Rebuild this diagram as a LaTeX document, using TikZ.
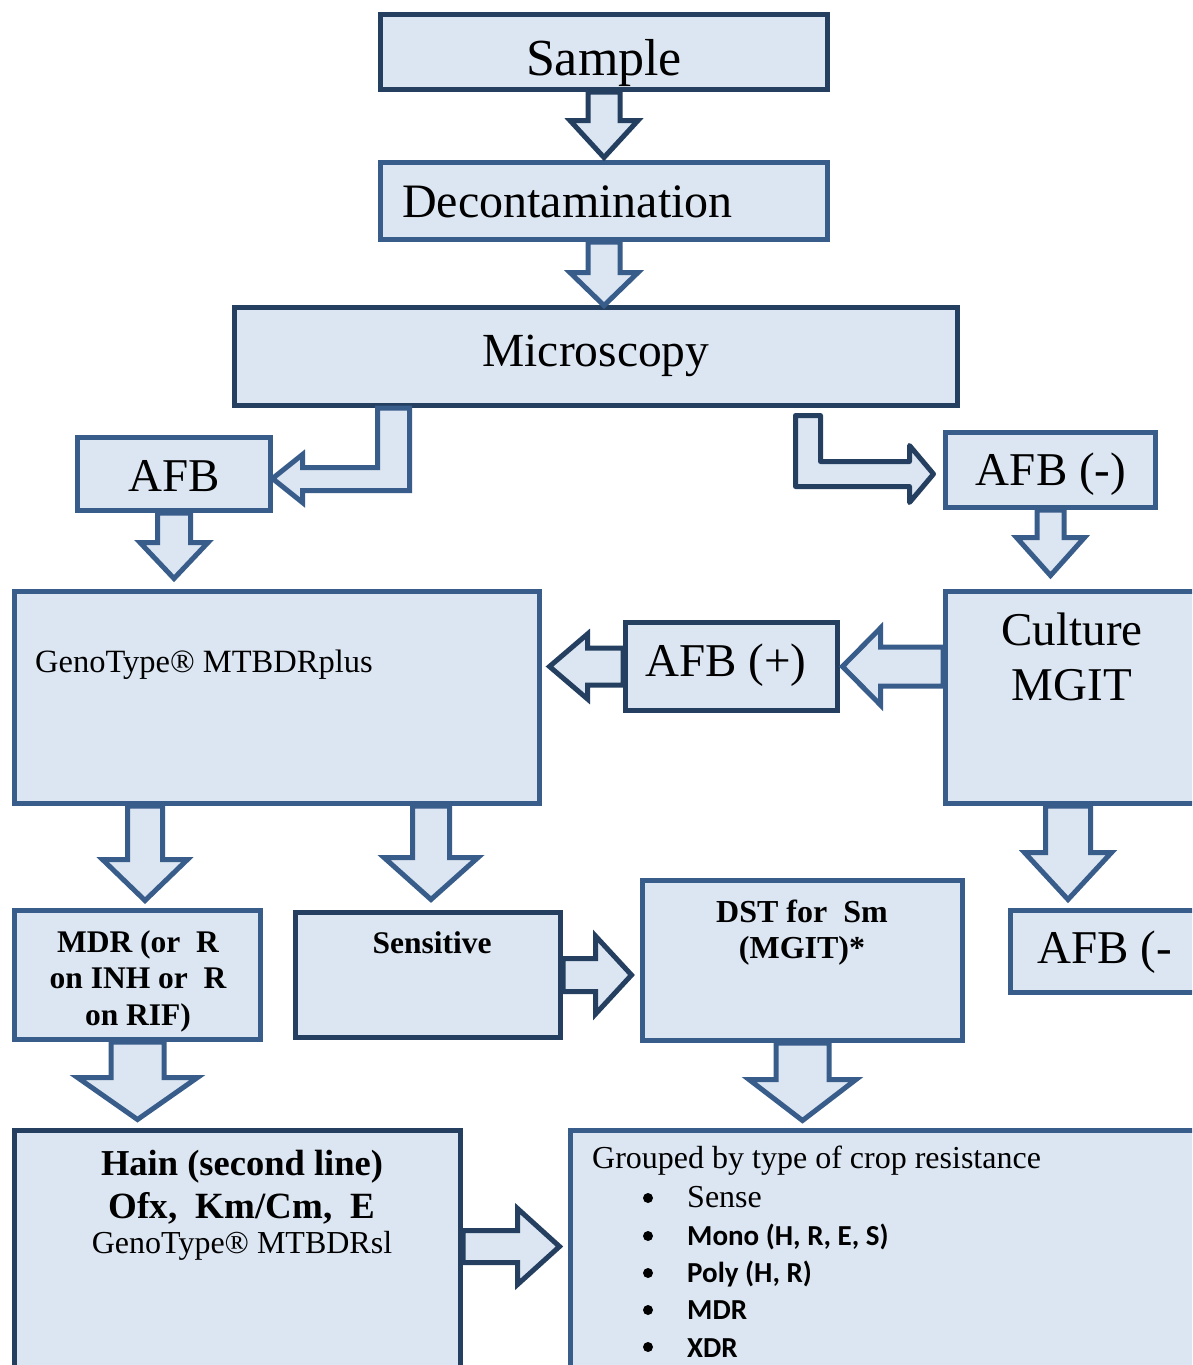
\documentclass[tikz,border=0pt]{standalone}
\usepackage{fontspec}
\setmainfont{Liberation Serif}
\newfontfamily\calfont{Carlito}
\usetikzlibrary{calc}
\definecolor{fillc}{HTML}{DCE6F2}
\definecolor{darkb}{HTML}{243F60}
\definecolor{medb}{HTML}{385D8A}
\newcommand\fs[1]{\fontsize{#1}{#1}\selectfont}
% #1 style, #2 start, #3 shaft half, #4 head half, #5 shaft length, #6 head length
\newcommand\downblk[6]{\draw[#1] #2 ++(-#3,0) -- ++(0,#5) -- ++(#3-#4,0) -- ++(#4,#6) -- ++(#4,-#6) -- ++(#3-#4,0) -- ++(0,-#5) -- cycle;}
\newcommand\rightblk[6]{\draw[#1] #2 ++(0,-#3) -- ++(#5,0) -- ++(0,#3-#4) -- ++(#6,#4) -- ++(-#6,#4) -- ++(0,#3-#4) -- ++(-#5,0) -- cycle;}
\newcommand\leftblk[6]{\draw[#1] #2 ++(0,-#3) -- ++(-#5,0) -- ++(0,#3-#4) -- ++(-#6,#4) -- ++(#6,#4) -- ++(0,#3-#4) -- ++(#5,0) -- cycle;}
\begin{document}
\begin{tikzpicture}[x=1pt,y=-1pt,
  boxd/.style={draw=darkb, fill=fillc, line width=5pt, inner sep=0pt, rectangle},
  boxm/.style={draw=medb, fill=fillc, line width=5pt, inner sep=0pt, rectangle},
  arrd/.style={draw=darkb, fill=fillc, line width=5pt},
  arrm/.style={draw=medb, fill=fillc, line width=5pt},
  txt/.style={inner sep=0pt, text=black},
  bul/.style={fill=black}]
\useasboundingbox (0,0) rectangle (1192,1365);
\clip (0,0) rectangle (1192,1365);
\fill[white] (0,0) rectangle (1192,1365);

% boxes
\node[boxd, minimum width=447pt, minimum height=75pt] (sample) at (604,52) {};
\node[boxm, minimum width=447pt, minimum height=77pt] (decon) at (604,201) {};
\node[boxd, minimum width=723pt, minimum height=98pt] (micro) at (596,356.5) {};
\node[boxm, minimum width=193pt, minimum height=73pt] (afb) at (174,474) {};
\node[boxm, minimum width=210pt, minimum height=75pt] (afbneg) at (1050.5,470) {};
\node[boxm, minimum width=525pt, minimum height=212pt] (geno) at (277,697.5) {};
\node[boxd, minimum width=212pt, minimum height=88pt] (afbpos) at (731.5,666.5) {};
\node[boxm, minimum width=267pt, minimum height=212pt] (culture) at (1079,697.5) {};
\node[boxm, minimum width=202pt, minimum height=82pt] (afbnegb) at (1111.5,951.5) {};
\node[boxm, minimum width=246pt, minimum height=129pt] (mdr) at (137.5,975) {};
\node[boxd, minimum width=265pt, minimum height=125pt] (sens) at (428,975) {};
\node[boxm, minimum width=320pt, minimum height=160pt] (dst) at (802.5,960.5) {};
\node[boxd, minimum width=446pt, minimum height=267pt] (hain) at (237.5,1264) {};
\node[boxm, minimum width=642pt, minimum height=267pt] (group) at (891.5,1264) {};

% block arrows
\downblk{arrd}{(sample.south)}{16}{34}{28.5}{37}
\downblk{arrm}{(decon.south)}{16}{34}{30.5}{33}
\draw[arrm] ($(micro.south west)+(145.5,0)$) -- ++(0,59.5) -- ++(-75,0) -- ++(0,-13) -- ++(-30,24) -- ++(30,24) -- ++(0,-12) -- ++(107,0) -- ++(0,-82.5) -- cycle;
\downblk{arrm}{(afb.south)}{16.5}{34}{29.5}{36}
\draw[arrd, line join=round] ($(micro.south east)+(-164.5,7.5)$) -- ++(0,71) -- ++(114,0) -- ++(0,16) -- ++(24,-28.5) -- ++(-24,-28.5) -- ++(0,16) -- ++(-89,0) -- ++(0,-46) -- cycle;
\downblk{arrm}{(afbneg.south)}{13.5}{34}{27.5}{38}
\leftblk{arrd}{(afbpos.west)}{18.5}{32.5}{35.5}{38}
\leftblk{arrm}{(culture.west |- afbpos.east)}{19.5}{38.5}{62.5}{38}
\downblk{arrm}{($(culture.south west)+(125,0)$)}{22.5}{43.5}{46.5}{47}
\downblk{arrm}{($(geno.south west)+(133,0)$)}{17.5}{42.5}{53.5}{41}
\downblk{arrm}{($(geno.south west)+(419,0)$)}{18.5}{47}{51.5}{42}
\rightblk{arrd}{(sens.east)}{16.5}{39}{32.5}{36}
\downblk{arrm}{(dst.south)}{26.5}{53.5}{36.5}{41}
\downblk{arrm}{(mdr.south)}{26.5}{60}{35.5}{42}
\rightblk{arrd}{($(hain.north east)+(0,118.5)$)}{16}{38}{54.5}{42}

% texts
\node[txt,anchor=base] (sampleT) at (604,75) {\fs{52}Sample};
\node[txt,anchor=base west] (deconT) at (402,217) {\fs{48}Decontamination};
\node[txt,anchor=base] (microT) at (596,366) {\fs{47.5}Microscopy};
\node[txt,anchor=base] (afbT) at (174,491) {\fs{47}AFB};
\node[txt,anchor=base] (afbnegT) at (1051,485) {\fs{47}AFB (-)};
\node[txt,anchor=base] (afbposT) at (726,676) {\fs{47}AFB (+)};
\node[txt,anchor=base] (cultA) at (1072,645) {\fs{47}Culture};
\node[txt,anchor=base] (cultB) at (1072,700) {\fs{47}MGIT};
\node[txt,anchor=base west] (afbnegbT) at (1037,963) {\fs{47}AFB (-};
\node[txt,anchor=base west] (genoT) at (35,672) {\fs{32.5}GenoType® MTBDRplus};
\node[txt,anchor=base] (mdrA) at (138,952) {\fs{31.5}\bfseries MDR (or~ R};
\node[txt,anchor=base] (mdrB) at (138,988) {\fs{31.5}\bfseries on INH or~ R};
\node[txt,anchor=base] (mdrC) at (138,1025) {\fs{31.5}\bfseries on RIF)};
\node[txt,anchor=base] (sensT) at (432,953) {\fs{31.5}\bfseries Sensitive};
\node[txt,anchor=base] (dstA) at (802,922) {\fs{32}\bfseries DST for~ Sm};
\node[txt,anchor=base] (dstB) at (802,958) {\fs{32}\bfseries (MGIT)*};
\node[txt,anchor=base] (hainA) at (242,1175) {\fs{36.5}\bfseries Hain (second line)};
\node[txt,anchor=base] (hainB) at (242,1218) {\fs{37}\bfseries Ofx,~ Km/Cm,~ E};
\node[txt,anchor=base] (hainC) at (242,1253) {\fs{32}GenoType® MTBDRsl};
\node[txt,anchor=base west] (groupT) at (592,1168) {\fs{32}Grouped by type of crop resistance};
\node[txt,anchor=base west] (gA) at (687,1207) {\fs{32}Sense};
\node[txt,anchor=base west] (gB) at (687,1245) {\fs{29}\calfont\bfseries Mono (H, R, E, S)};
\node[txt,anchor=base west] (gC) at (687,1282) {\fs{29}\calfont\bfseries Poly (H, R)};
\node[txt,anchor=base west] (gD) at (687,1319) {\fs{29}\calfont\bfseries MDR};
\node[txt,anchor=base west] (gE) at (687,1357) {\fs{29}\calfont\bfseries XDR};
\foreach \yy in {1198,1236,1273,1310,1347} \fill[bul] (648,\yy) circle[radius=5pt];
\end{tikzpicture}
\end{document}
